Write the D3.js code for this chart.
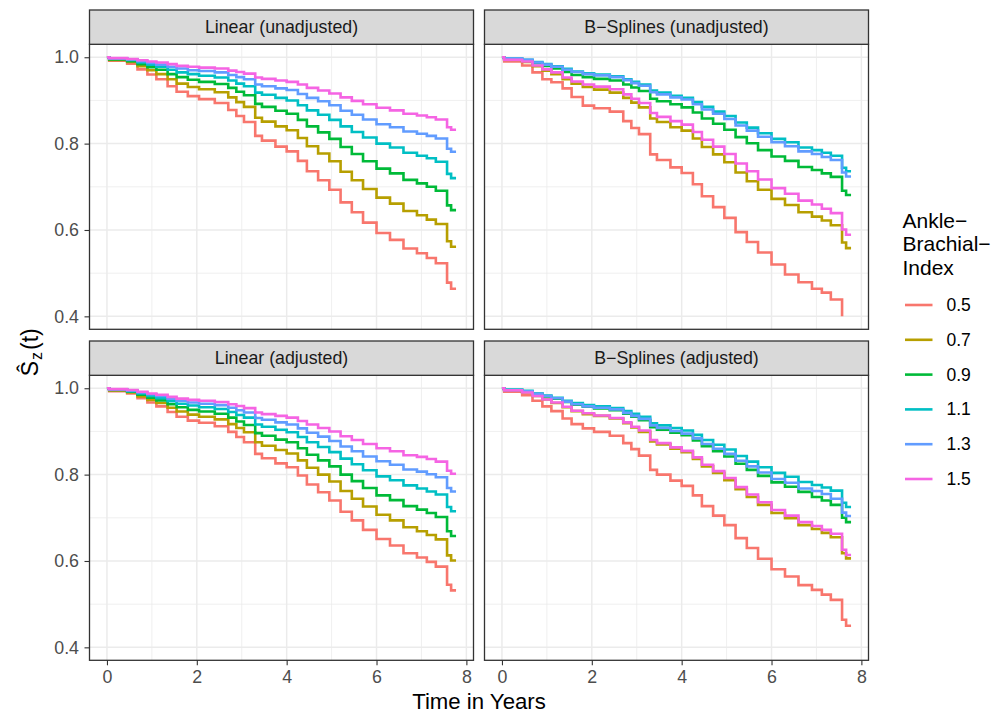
<!DOCTYPE html>
<html>
<head>
<meta charset="utf-8">
<script src="https://cdn.jsdelivr.net/npm/d3@7"></script>
<style>
  body { margin: 0; background: #ffffff; }
  svg { display: block; }
  text { font-family: "Liberation Sans", Arial, Helvetica, sans-serif; }
</style>
</head>
<body>
<svg id="chart" width="997" height="715"></svg>
<script>
// Event times (years) at which the estimated survival curves step
const stepTimes = [0, 0.05, 0.45, 0.68, 0.90, 1.10, 1.35, 1.55, 1.80, 2.05, 2.40, 2.70, 2.88, 3.05,
  3.30, 3.45, 3.75, 4.00, 4.25, 4.45, 4.70, 4.95, 5.20, 5.45, 5.70, 6.00, 6.30, 6.60, 6.90,
  7.12, 7.32, 7.57, 7.66, 7.77];

const abiLevels = ["0.5", "0.7", "0.9", "1.1", "1.3", "1.5"];
const abiColors = ["#F8766D", "#B79F00", "#00BA38", "#00BFC4", "#619CFF", "#F564E3"];
const panelTitles = ["Linear (unadjusted)", "B\u2212Splines (unadjusted)", "Linear (adjusted)", "B\u2212Splines (adjusted)"];

// Survival estimates, one row per ankle-brachial index level (0.5 ... 1.5)
const linearUnadjusted = [
  [1, .992, .985, .972, .960, .949, .933, .920, .910, .903, .894, .878, .864, .850, .818, .807, .793, .782, .760, .736, .715, .693, .664, .641, .617, .593, .577, .557, .546, .535, .523, .478, .464, .464],
  [1, .994, .989, .979, .970, .961, .949, .939, .931, .926, .919, .907, .896, .885, .860, .851, .840, .831, .813, .794, .777, .759, .735, .715, .695, .675, .661, .644, .634, .624, .614, .574, .561, .561],
  [1, .995, .991, .984, .977, .971, .961, .954, .948, .943, .938, .929, .920, .912, .892, .885, .876, .869, .855, .840, .826, .811, .792, .776, .759, .742, .731, .716, .708, .700, .691, .657, .646, .646],
  [1, .997, .994, .988, .983, .978, .971, .965, .961, .957, .953, .946, .939, .933, .918, .913, .906, .900, .889, .877, .867, .855, .840, .827, .814, .800, .791, .779, .772, .766, .758, .730, .720, .720],
  [1, .997, .995, .991, .987, .983, .978, .974, .970, .968, .965, .959, .954, .949, .937, .933, .928, .924, .915, .906, .898, .889, .876, .867, .856, .845, .838, .828, .823, .818, .812, .788, .781, .781],
  [1, .998, .996, .993, .990, .988, .984, .980, .978, .976, .974, .969, .966, .962, .953, .950, .946, .943, .937, .929, .923, .916, .907, .899, .891, .883, .877, .869, .865, .861, .856, .838, .832, .832]
];

const splineUnadjusted = [
  [1, .990, .981, .965, .949, .942, .928, .908, .888, .882, .874, .852, .836, .822, .775, .762, .745, .732, .706, .678, .653, .628, .595, .572, .548, .520, .497, .479, .464, .455, .439, .400],
  [1, .994, .989, .979, .969, .961, .949, .939, .931, .925, .918, .906, .895, .884, .858, .850, .838, .830, .812, .792, .775, .757, .733, .713, .693, .672, .658, .641, .631, .622, .611, .571, .558, .558],
  [1, .996, .992, .986, .980, .974, .966, .959, .954, .950, .946, .937, .930, .922, .904, .898, .891, .884, .872, .858, .846, .832, .815, .801, .785, .770, .760, .746, .739, .731, .723, .691, .681, .681],
  [1, .997, .994, .989, .984, .979, .973, .967, .963, .960, .956, .949, .943, .937, .923, .918, .911, .906, .896, .885, .874, .864, .849, .837, .824, .811, .803, .791, .785, .779, .772, .744, .736, .736],
  [1, .997, .994, .988, .983, .978, .971, .966, .961, .958, .954, .947, .940, .934, .919, .914, .907, .902, .891, .879, .869, .857, .842, .830, .816, .803, .794, .782, .776, .769, .762, .733, .724, .724],
  [1, .994, .990, .981, .972, .965, .953, .944, .937, .932, .926, .914, .904, .894, .871, .862, .852, .844, .827, .809, .793, .776, .754, .736, .717, .697, .684, .668, .659, .649, .639, .601, .589, .589]
];

const linearAdjusted = [
  [1, .993, .988, .977, .967, .958, .945, .934, .925, .920, .912, .899, .887, .875, .848, .838, .826, .817, .798, .777, .759, .740, .714, .694, .672, .651, .636, .618, .608, .598, .587, .545, .532, .532],
  [1, .995, .990, .981, .973, .966, .955, .946, .939, .934, .928, .917, .908, .898, .875, .867, .857, .849, .833, .816, .800, .784, .762, .744, .726, .707, .694, .678, .669, .660, .650, .613, .601, .601],
  [1, .996, .992, .985, .978, .972, .963, .956, .950, .946, .941, .932, .923, .915, .896, .890, .881, .875, .861, .846, .833, .819, .800, .785, .769, .752, .741, .727, .719, .711, .702, .669, .658, .658],
  [1, .997, .993, .988, .982, .977, .970, .964, .960, .956, .952, .945, .938, .932, .916, .911, .904, .898, .887, .875, .864, .852, .837, .824, .810, .796, .787, .775, .768, .761, .754, .725, .715, .715],
  [1, .997, .995, .990, .986, .982, .976, .971, .967, .964, .961, .955, .949, .944, .931, .927, .921, .916, .907, .897, .888, .878, .865, .854, .842, .831, .823, .812, .807, .801, .794, .769, .761, .761],
  [1, .998, .996, .992, .988, .985, .980, .976, .973, .971, .968, .963, .959, .954, .944, .940, .936, .932, .924, .916, .908, .900, .889, .880, .871, .861, .854, .845, .841, .836, .830, .809, .802, .802]
];

const splineAdjusted = [
  [1, .992, .984, .971, .958, .947, .930, .917, .907, .899, .890, .873, .859, .844, .811, .800, .786, .774, .752, .727, .705, .683, .653, .630, .605, .581, .564, .544, .533, .522, .510, .464, .450, .450],
  [1, .995, .990, .982, .974, .966, .956, .947, .940, .936, .930, .919, .909, .899, .877, .870, .860, .852, .836, .819, .804, .787, .766, .748, .730, .711, .699, .683, .674, .665, .655, .618, .606, .606],
  [1, .996, .993, .987, .981, .976, .968, .962, .957, .953, .949, .941, .934, .926, .910, .904, .897, .891, .879, .866, .854, .842, .825, .811, .797, .782, .772, .760, .748, .740, .730, .700, .690, .690],
  [1, .997, .994, .988, .983, .978, .971, .966, .961, .958, .954, .947, .941, .934, .919, .914, .908, .902, .892, .880, .869, .858, .843, .830, .817, .804, .795, .783, .776, .770, .763, .735, .725, .725],
  [1, .996, .993, .987, .982, .977, .969, .963, .958, .955, .951, .943, .936, .929, .914, .908, .901, .895, .884, .871, .860, .848, .832, .819, .805, .790, .781, .768, .762, .755, .744, .712, .704, .704],
  [1, .995, .990, .982, .974, .967, .957, .948, .942, .937, .931, .921, .911, .902, .880, .873, .863, .855, .840, .823, .808, .792, .771, .754, .736, .718, .705, .690, .681, .672, .663, .626, .614, .614]
];

const xTicks = [0, 2, 4, 6, 8];
const xMinorTicks = [1, 3, 5, 7];
const yTicks = [0.4, 0.6, 0.8, 1.0];
const yMinorTicks = [0.5, 0.7, 0.9];

// ---- layout ----
const svg = d3.select("#chart");
const colX = [89.5, 484.5];
const rowY = [10, 341];
const panelW = 384;
const stripH = 34.3;
const panelH = 285;
const border = "#333333";
const gridCol = "#EBEBEB";
const fontStack = "\"Liberation Sans\", Arial, Helvetica, sans-serif";

const panels = [
  { title: panelTitles[0], rows: linearUnadjusted, col: 0, row: 0 },
  { title: panelTitles[1], rows: splineUnadjusted, col: 1, row: 0 },
  { title: panelTitles[2], rows: linearAdjusted, col: 0, row: 1 },
  { title: panelTitles[3], rows: splineAdjusted, col: 1, row: 1 }
];

// shared scales with 5% padding on the data range
const tExt = d3.extent(stepTimes);
const allVals = panels.flatMap(p => p.rows.flat());
const vExt = d3.extent(allVals);
const tPad = (tExt[1] - tExt[0]) * 0.05;
const vPad = (vExt[1] - vExt[0]) * 0.05;
const x = d3.scaleLinear().domain([tExt[0] - tPad, tExt[1] + tPad]).range([0, panelW]);
const y = d3.scaleLinear().domain([vExt[0] - vPad, vExt[1] + vPad]).range([panelH, 0]);

const line = d3.line()
  .x(d => x(d[0]))
  .y(d => y(d[1]))
  .curve(d3.curveStepAfter);

panels.forEach(p => {
  const left = colX[p.col];
  const stripTop = rowY[p.row];
  const top = stripTop + stripH;

  const g = svg.append("g").attr("transform", `translate(${left},${top})`);

  g.append("rect").attr("width", panelW).attr("height", panelH).attr("fill", "#ffffff");

  // minor then major grid
  g.selectAll(".gxm").data(xMinorTicks).enter().append("line")
    .attr("x1", d => x(d)).attr("x2", d => x(d)).attr("y1", 0).attr("y2", panelH)
    .attr("stroke", gridCol).attr("stroke-width", 0.8);
  g.selectAll(".gym").data(yMinorTicks).enter().append("line")
    .attr("x1", 0).attr("x2", panelW).attr("y1", d => y(d)).attr("y2", d => y(d))
    .attr("stroke", gridCol).attr("stroke-width", 0.8);
  g.selectAll(".gx").data(xTicks).enter().append("line")
    .attr("x1", d => x(d)).attr("x2", d => x(d)).attr("y1", 0).attr("y2", panelH)
    .attr("stroke", gridCol).attr("stroke-width", 1.5);
  g.selectAll(".gy").data(yTicks).enter().append("line")
    .attr("x1", 0).attr("x2", panelW).attr("y1", d => y(d)).attr("y2", d => y(d))
    .attr("stroke", gridCol).attr("stroke-width", 1.5);

  // step curves, drawn in level order
  p.rows.forEach((vals, i) => {
    const pts = vals.map((v, j) => [stepTimes[j], v]);
    g.append("path")
      .attr("d", line(pts))
      .attr("fill", "none")
      .attr("stroke", abiColors[i])
      .attr("stroke-width", 2.6)
      .attr("stroke-linejoin", "miter");
  });

  g.append("rect").attr("width", panelW).attr("height", panelH)
    .attr("fill", "none").attr("stroke", border).attr("stroke-width", 1.3);

  // strip
  const s = svg.append("g").attr("transform", `translate(${left},${stripTop})`);
  s.append("rect").attr("width", panelW).attr("height", stripH)
    .attr("fill", "#D9D9D9").attr("stroke", border).attr("stroke-width", 1.3);
  s.append("text").attr("x", panelW / 2).attr("y", stripH / 2 + 6.3)
    .attr("text-anchor", "middle").attr("font-size", "17.8px").attr("fill", "#1A1A1A")
    .text(p.title);

  // axes
  if (p.col === 0) {
    const ax = g.append("g").call(d3.axisLeft(y).tickValues(yTicks).tickFormat(d3.format(".1f")).tickSize(5).tickPadding(5.5));
    ax.select(".domain").remove();
    ax.selectAll("line").attr("stroke", border).attr("stroke-width", 1.1);
    ax.selectAll("text").attr("font-size", "17.8px").attr("fill", "#4D4D4D")
      .attr("font-family", fontStack);
  }
  if (p.row === 1) {
    const ax = g.append("g").attr("transform", `translate(0,${panelH})`)
      .call(d3.axisBottom(x).tickValues(xTicks).tickFormat(d3.format("d")).tickSize(5).tickPadding(5.5));
    ax.select(".domain").remove();
    ax.selectAll("line").attr("stroke", border).attr("stroke-width", 1.1);
    ax.selectAll("text").attr("font-size", "17.8px").attr("fill", "#4D4D4D")
      .attr("font-family", fontStack);
  }
});

// axis titles
const plotLeft = colX[0];
const plotRight = colX[1] + panelW;
svg.append("text")
  .attr("x", (plotLeft + plotRight) / 2).attr("y", 708.5)
  .attr("text-anchor", "middle").attr("font-size", "22.2px").attr("fill", "#000")
  .text("Time in Years");

const yTitleMid = (rowY[0] + stripH + rowY[1] + stripH + panelH) / 2;
const yTitle = svg.append("text")
  .attr("transform", `translate(38,${yTitleMid}) rotate(-90)`)
  .attr("text-anchor", "middle").attr("font-size", "23px").attr("fill", "#000");
yTitle.append("tspan").text("\u015C");
yTitle.append("tspan").attr("font-size", "16px").attr("dy", 4).attr("dx", 1).text("z");
yTitle.append("tspan").attr("dy", -4).attr("dx", 2).text("(t)");

// legend
const legTitle = svg.append("text").attr("font-size", "21px").attr("fill", "#000");
["Ankle\u2212", "Brachial\u2212", "Index"].forEach((t, i) => {
  legTitle.append("tspan").attr("x", 902.5).attr("y", 227.5 + i * 23.5).text(t);
});
const leg = svg.append("g");
abiLevels.forEach((lv, i) => {
  const cy = 305 + i * 34.8;
  leg.append("line").attr("x1", 905).attr("x2", 932.5).attr("y1", cy).attr("y2", cy)
    .attr("stroke", abiColors[i]).attr("stroke-width", 2.6);
  leg.append("text").attr("x", 946.5).attr("y", cy + 6).attr("font-size", "17.5px")
    .attr("fill", "#000").text(lv);
});
</script>
</body>
</html>
